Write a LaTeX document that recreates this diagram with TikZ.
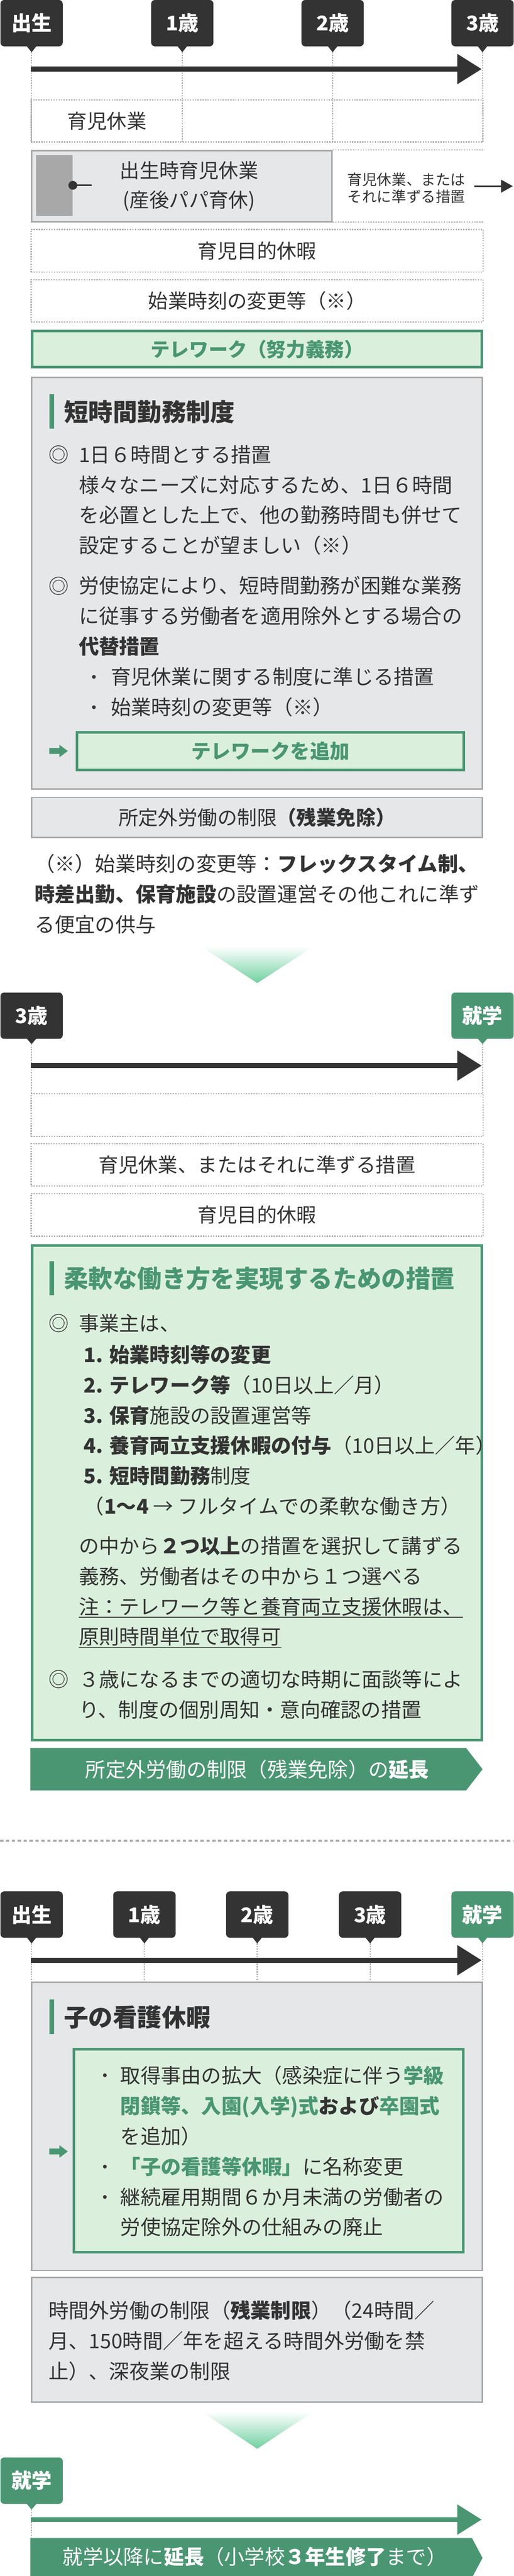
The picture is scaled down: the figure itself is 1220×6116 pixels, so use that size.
\documentclass[tikz,border=0pt]{standalone}
\usepackage{fontspec}
\setmainfont{Noto Sans CJK JP}
\usepackage{tikz}
\usetikzlibrary{arrows.meta,positioning}

\definecolor{inkdark}{HTML}{333333}
\definecolor{leafgreen}{HTML}{4A9673}
\definecolor{mintfill}{HTML}{DBF0DC}
\definecolor{panelgray}{HTML}{E6E7E9}
\definecolor{rulegray}{HTML}{A8A8A8}
\definecolor{dotgray}{HTML}{ADADAD}
\definecolor{mintshade}{HTML}{6FD0A0}

\tikzset{
  agebox/.style={rectangle,rounded corners=9pt,minimum width=148pt,minimum height=110pt,inner sep=0pt,text=white,font=\fontsize{48}{56}\selectfont\bfseries},
  dotline/.style={draw=dotgray,line width=2.6pt,dash pattern=on 3pt off 3pt},
  rowbox/.style={dotline,rectangle,minimum width=1073pt,minimum height=100pt,inner sep=0pt,text=inkdark,font=\fontsize{47}{56}\selectfont},
  rowtext/.style={inner sep=0pt,text=inkdark,font=\fontsize{47}{69}\selectfont},
  graypanel/.style={rectangle,fill=panelgray,draw=rulegray,line width=3.5pt,inner sep=0pt},
  greenpanel/.style={rectangle,fill=mintfill,draw=leafgreen,line width=6pt,inner sep=0pt},
  bodytext/.style={inner sep=0pt,anchor=west,align=left,text=inkdark,font=\fontsize{48}{72}\selectfont},
  paneltitle/.style={inner sep=0pt,anchor=west,font=\fontsize{58}{64}\selectfont\bfseries},
  agearrow/.style={line width=12pt,-{Triangle[length=58pt,width=69pt]}},
  goarrow/.pic={\fill[leafgreen] (0,-7) -- (24,-7) -- (24,-15) -- (44,0) -- (24,15) -- (24,7) -- (0,7) -- cycle;},
}

\begin{document}
\begin{tikzpicture}[x=1pt,y=-1pt]
  \useasboundingbox (0,0) rectangle (1220,6116);

  % birth to age three
  \foreach \x/\lab/\n in {75/出生/0,433/1歳/1,790/2歳/2,1146/3歳/3}{
    \node[agebox,fill=inkdark] (ageA\n) at (\x,55) {\lab};
    \fill[inkdark] (\x-12,109) -- (\x+12,109) -- (\x,124) -- cycle;
    \draw[dotline] (\x,124) -- (\x,337);
  }
  \coordinate (runA) at (74,164);
  \coordinate (runAend) at (1144,164);
  \draw[inkdark,agearrow] (runA) -- (runAend);

  \node[rowbox] (leave) at (610.5,287) {};
  \node[rowtext] (leavetext) at (254,288) {育児休業};

  \node[graypanel,minimum width=713pt,minimum height=169pt] (papa) at (432,442) {};
  \fill[rulegray] (86,368) rectangle (173,512);
  \fill[inkdark] (173,440) circle (10.5);
  \draw[inkdark,line width=4pt] (173,440) -- (218,440);
  \node[rowtext,align=center] (papatext) at (449,442.5) {出生時育児休業\\(産後パパ育休)};
  \draw[dotline] (790,356) -- (1147,356);
  \draw[dotline] (790,527) -- (1147,527);
  \node[rowtext,anchor=west,align=left,font=\fontsize{35}{41}\selectfont] (papanext) at (825,446.5) {育児休業、または\\それに準ずる措置};
  \coordinate (papanextA) at (1126,442);
  \coordinate (papanextB) at (1218,442);
  \draw[inkdark,line width=4pt,-{Triangle[length=28pt,width=30pt]}] (papanextA) -- (papanextB);

  \node[rowbox,minimum height=101pt] (purpose) at (610.5,595.5) {育児目的休暇};
  \node[rowbox] (startchange) at (610.5,714) {始業時刻の変更等（※）};
  \node[greenpanel,minimum width=1067pt,minimum height=86pt,text=leafgreen,font=\fontsize{46}{56}\selectfont\bfseries] (telework) at (610.5,829) {テレワーク（努力義務）};

  \node[graypanel,minimum width=1070pt,minimum height=978pt] (shortpanel) at (610.5,1384.5) {};
  \fill[leafgreen] (117,936) rectangle (128,1018);
  \node[paneltitle,text=inkdark] (shorttitle) at (152,978) {短時間勤務制度};
  \node[bodytext] (markA) at (115,1079) {◎};
  \node[bodytext] (sixhour) at (187,1187.5) {1日６時間とする措置\\様々なニーズに対応するため、1日６時間\\を必置とした上で、他の勤務時間も併せて\\設定することが望ましい（※）};
  \node[bodytext] (markB) at (115,1392) {◎};
  \node[bodytext] (exempt) at (187,1462.5) {労使協定により、短時間勤務が困難な業務\\に従事する労働者を適用除外とする場合の\\\textbf{代替措置}};
  \fill[inkdark] (223,1607) circle (4.5);
  \fill[inkdark] (223,1679) circle (4.5);
  \node[bodytext] (altlist) at (263,1643) {育児休業に関する制度に準じる措置\\始業時刻の変更等（※）};
  \pic at (117,1783) {goarrow};
  \node[greenpanel,minimum width=919pt,minimum height=89pt,text=leafgreen,font=\fontsize{47}{56}\selectfont\bfseries] (addtele) at (642.5,1783.5) {テレワークを追加};

  \node[graypanel,minimum width=1070pt,minimum height=95pt,text=inkdark,font=\fontsize{47}{56}\selectfont] (overtime) at (610.5,1941) {所定外労働の制限\textbf{（残業免除）}};
  \node[bodytext] (footnote) at (82,2123) {（※）始業時刻の変更等：\textbf{フレックスタイム制、}\\\textbf{時差出勤、保育施設}の設置運営その他これに準ず\\る便宜の供与};

  \shade[top color=white,bottom color=mintshade] (479,2248) -- (743,2248) -- (611,2334) -- cycle;

  % age three to school
  \foreach \x/\lab/\col/\n in {75/3歳/inkdark/0,1146/就学/leafgreen/1}{
    \node[agebox,fill=\col] (ageB\n) at (\x,2411.5) {\lab};
    \fill[\col] (\x-12,2465) -- (\x+12,2465) -- (\x,2479) -- cycle;
    \draw[dotline] (\x,2479) -- (\x,2597);
  }
  \coordinate (runB) at (74,2530);
  \coordinate (runBend) at (1144,2530);
  \draw[inkdark,agearrow] (runB) -- (runBend);

  \node[rowbox,minimum height=101pt] (blankrow) at (610.5,2647.5) {};
  \node[rowbox] (leaveB) at (610.5,2766) {育児休業、またはそれに準ずる措置};
  \node[rowbox,minimum height=101pt] (purposeB) at (610.5,2884.5) {育児目的休暇};

  \node[greenpanel,minimum width=1067pt,minimum height=1174pt] (flexpanel) at (610.5,3544) {};
  \fill[leafgreen] (117,2994) rectangle (128,3075);
  \node[paneltitle,text=leafgreen] (flextitle) at (152,3036) {柔軟な働き方を実現するための措置};
  \node[bodytext] (markC) at (115,3142) {◎};
  \node[bodytext] (employer) at (187,3142) {事業主は、};
  \node[bodytext] (menu) at (199,3396) {\textbf{1. 始業時刻等の変更}\\\textbf{2. テレワーク等}（10日以上／月）\\\textbf{3. 保育}施設の設置運営等\\\textbf{4. 養育両立支援休暇の付与}（10日以上／年）\\\textbf{5. 短時間勤務}制度\\（\textbf{1〜4} → フルタイムでの柔軟な働き方）};
  \node[bodytext] (choose) at (187,3706) {の中から\textbf{２つ以上}の措置を選択して講ずる\\義務、労働者はその中から１つ選べる};
  \node[bodytext] (noteA) at (187,3814) {注：テレワーク等と養育両立支援休暇は、};
  \node[bodytext] (noteB) at (187,3886) {原則時間単位で取得可};
  \draw[inkdark,line width=2pt] ([yshift=-7pt]noteA.base west) -- ([yshift=-7pt]noteA.base east);
  \draw[inkdark,line width=2pt] ([yshift=-7pt]noteB.base west) -- ([yshift=-7pt]noteB.base east);
  \node[bodytext] (markD) at (115,3987) {◎};
  \node[bodytext] (interview) at (187,4023) {３歳になるまでの適切な時期に面談等によ\\り、制度の個別周知・意向確認の措置};

  \fill[leafgreen] (72,4150) -- (1107,4150) -- (1146,4200.5) -- (1107,4251) -- (72,4251) -- cycle;
  \node[rowtext,text=white,font=\fontsize{48}{56}\selectfont] (overtimeB) at (611,4201) {所定外労働の制限（残業免除）の\textbf{延長}};

  \draw[draw=dotgray,line width=5pt,dash pattern=on 8pt off 6pt] (0,4370) -- (1220,4370);

  % birth to school
  \foreach \x/\lab/\col/\n in {75/出生/inkdark/0,343/1歳/inkdark/1,611/2歳/inkdark/2,879/3歳/inkdark/3,1146/就学/leafgreen/4}{
    \node[agebox,fill=\col] (ageC\n) at (\x,4545.5) {\lab};
    \fill[\col] (\x-12,4599) -- (\x+12,4599) -- (\x,4614) -- cycle;
    \draw[dotline] (\x,4614) -- (\x,4705);
  }
  \coordinate (runC) at (74,4654);
  \coordinate (runCend) at (1144,4654);
  \draw[inkdark,agearrow] (runC) -- (runCend);

  \node[graypanel,minimum width=1070pt,minimum height=684pt] (nursepanel) at (610.5,5048.5) {};
  \fill[leafgreen] (117,4747) rectangle (128,4829);
  \node[paneltitle,text=inkdark] (nursetitle) at (152,4790) {子の看護休暇};
  \node[greenpanel,minimum width=924pt,minimum height=482pt] (nursenew) at (638,5106) {};
  \pic at (117,5108) {goarrow};
  \fill[inkdark] (249,4927) circle (4.5);
  \fill[inkdark] (249,5144) circle (4.5);
  \fill[inkdark] (249,5216) circle (4.5);
  \node[bodytext] (nurselist) at (286,5107.5) {取得事由の拡大（感染症に伴う\textcolor{leafgreen}{\textbf{学級}}\\\textcolor{leafgreen}{\textbf{閉鎖等、入園(入学)式}}\textbf{および}\textcolor{leafgreen}{\textbf{卒園式}}\\を追加）\\\textcolor{leafgreen}{\textbf{「子の看護等休暇」}}に名称変更\\継続雇用期間６か月未満の労働者の\\労使協定除外の仕組みの廃止};

  \node[graypanel,minimum width=1070pt,minimum height=296pt] (limitpanel) at (610.5,5555.5) {};
  \node[bodytext] (limittext) at (115,5557) {時間外労働の制限（\textbf{残業制限}）（24時間／\\月、150時間／年を超える時間外労働を禁\\止）、深夜業の制限};

  \shade[top color=white,bottom color=mintshade] (479,5726) -- (743,5726) -- (611,5814) -- cycle;

  % after school entry
  \node[agebox,fill=leafgreen] (ageD) at (75,5889.5) {就学};
  \fill[leafgreen] (63,5944) -- (87,5944) -- (75,5958) -- cycle;
  \draw[dotline] (75,5958) -- (75,6026);
  \coordinate (runD) at (74,5982);
  \coordinate (runDend) at (1144,5982);
  \draw[leafgreen,agearrow] (runD) -- (runDend);
  \fill[leafgreen] (72,6026) -- (1121,6026) -- (1146,6073) -- (1121,6120) -- (72,6120) -- cycle;
  \node[rowtext,text=white,font=\fontsize{48}{56}\selectfont] (schoolext) at (605,6070) {就学以降に\textbf{延長}（小学校\textbf{３年生修了}まで）};
\end{tikzpicture}
\end{document}
